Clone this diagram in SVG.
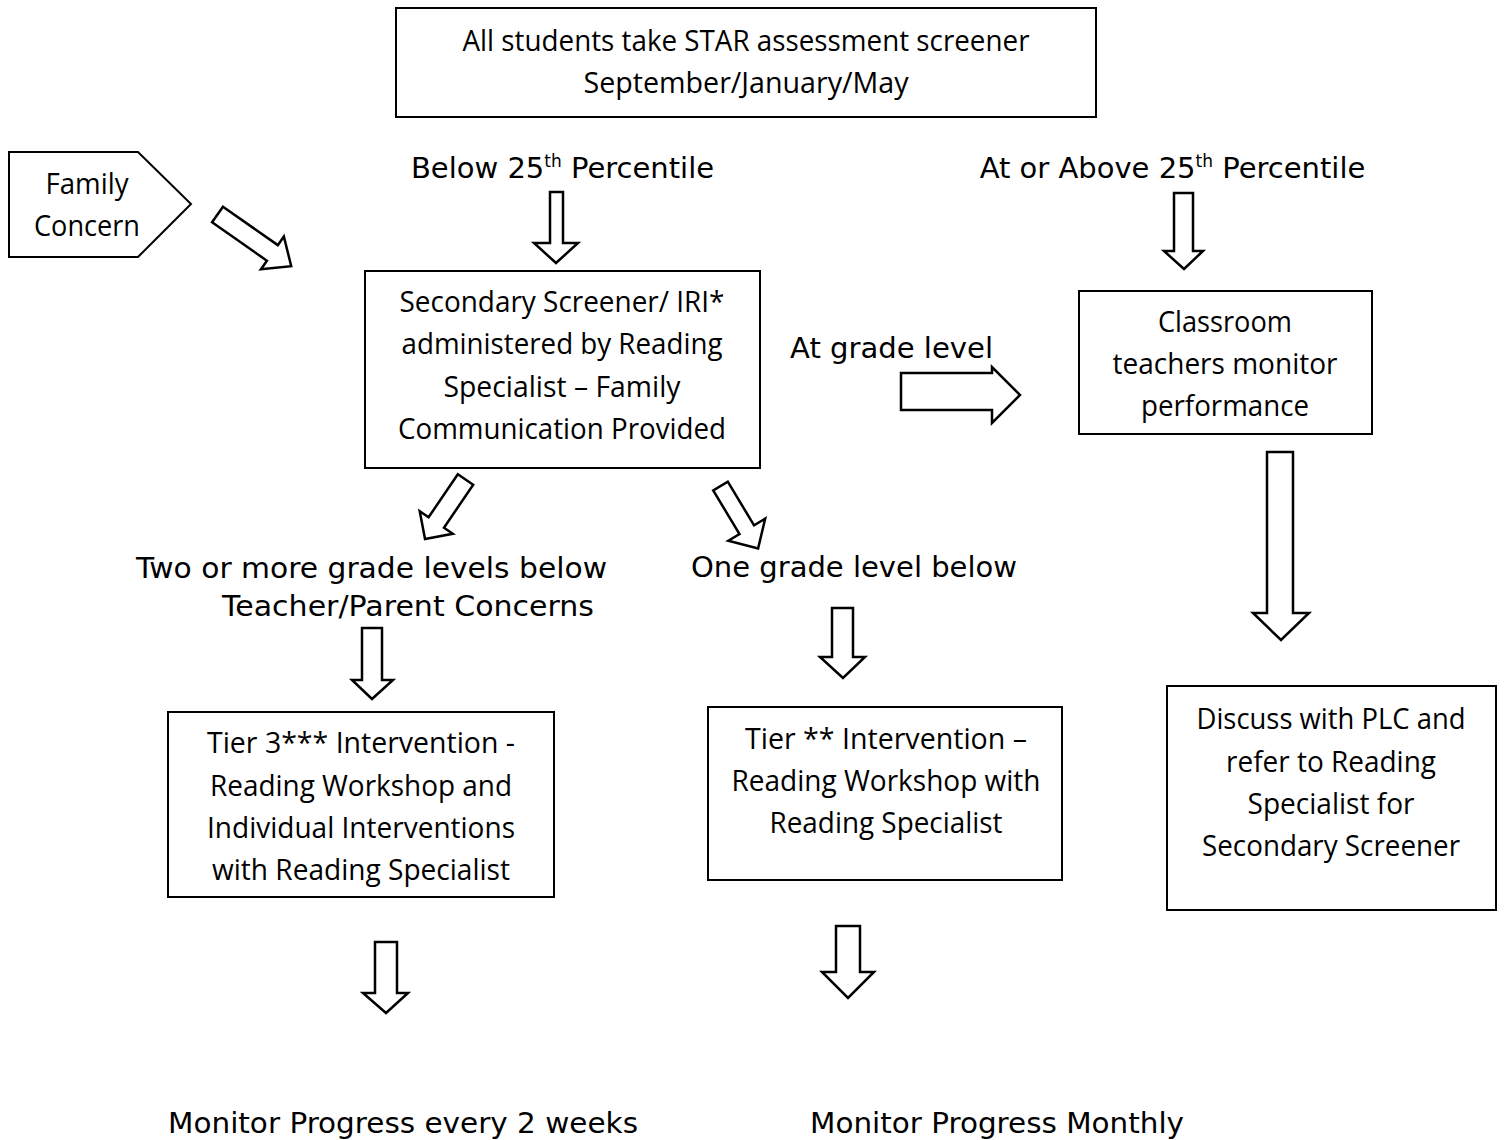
<svg xmlns="http://www.w3.org/2000/svg" width="1504" height="1140" viewBox="0 0 1504 1140">
<style>
.box{fill:#fff;stroke:#000;stroke-width:2}
.arrow{fill:#fff;stroke:#000;stroke-width:2.5;stroke-linejoin:miter}
.cal{font-family:"Open Sans","Noto Sans",sans-serif;font-size:29px;text-anchor:middle;fill:#000}
.ver{font-family:"DejaVu Sans",Verdana,sans-serif;font-size:29px;fill:#000}
</style>
<rect width="1504" height="1140" fill="#fff"/>
<g id="connectors">
  <polygon class="arrow" transform="translate(217.5,214.5) rotate(35)" points="0,-9.5 67,-9.5 67,-20 90,0 67,20 67,9.5 0,9.5"/>
  <polygon class="arrow" points="550,192 563,192 563,243 578,243 556,263 534,243 550,243"/>
  <polygon class="arrow" points="1174,193 1193,193 1193,251 1203,251 1184,269 1164,251 1174,251"/>
  <polygon class="arrow" points="901,373 992,373 992,367 1020,395 992,423 992,410 901,410"/>
  <polygon class="arrow" points="1267,452 1293,452 1293,613 1309,613 1281,640 1253,613 1267,613"/>
  <polygon class="arrow" transform="translate(465.5,479.5) rotate(124.2)" points="0,-9.3 52,-9.3 52,-20 72,0 52,20 52,9.3 0,9.3"/>
  <polygon class="arrow" transform="translate(720.5,486) rotate(59)" points="0,-8.5 51,-8.5 51,-21.5 73,0 51,21.5 51,8.5 0,8.5"/>
  <polygon class="arrow" points="362,628 382,628 382,680 393,680 372,699 352,680 362,680"/>
  <polygon class="arrow" points="832,608 853,608 853,657 865,657 843,678 820,657 832,657"/>
  <polygon class="arrow" points="375,942 397,942 397,993 408,993 386,1013 363,993 375,993"/>
  <polygon class="arrow" points="836,926 860,926 860,972 874,972 848,998 822,972 836,972"/>
</g>
<g id="star">
  <rect class="box" x="396" y="8" width="700" height="109"/>
  <text class="cal" x="746" y="51" textLength="567" lengthAdjust="spacingAndGlyphs">All students take STAR assessment screener</text>
  <text class="cal" x="746" y="93" textLength="325" lengthAdjust="spacingAndGlyphs">September/January/May</text>
</g>
<g id="family">
  <polygon class="box" points="9,152 138,152 191,204 138,257 9,257"/>
  <text class="cal" x="87" y="194" textLength="83" lengthAdjust="spacingAndGlyphs">Family</text>
  <text class="cal" x="87" y="236" textLength="106" lengthAdjust="spacingAndGlyphs">Concern</text>
</g>
<g id="below25">
  <text class="ver" x="562.5" y="178" text-anchor="middle">Below 25<tspan font-size="17" dy="-11">th</tspan><tspan dy="11"> Percentile</tspan></text>
</g>
<g id="above25">
  <text class="ver" x="1172.5" y="178" text-anchor="middle">At or Above 25<tspan font-size="17" dy="-11">th</tspan><tspan dy="11"> Percentile</tspan></text>
</g>
<g id="secondary">
  <rect class="box" x="365" y="271" width="395" height="197"/>
  <text class="cal" x="562" y="312" textLength="325" lengthAdjust="spacingAndGlyphs">Secondary Screener/ IRI*</text>
  <text class="cal" x="562" y="354" textLength="321" lengthAdjust="spacingAndGlyphs">administered by Reading</text>
  <text class="cal" x="562" y="397" textLength="237" lengthAdjust="spacingAndGlyphs">Specialist – Family</text>
  <text class="cal" x="562" y="439" textLength="328" lengthAdjust="spacingAndGlyphs">Communication Provided</text>
</g>
<g id="gradelevel">
  <text class="ver" x="790" y="358" textLength="203" lengthAdjust="spacingAndGlyphs">At grade level</text>
</g>
<g id="classroom">
  <rect class="box" x="1079" y="291" width="293" height="143"/>
  <text class="cal" x="1225" y="332" textLength="134" lengthAdjust="spacingAndGlyphs">Classroom</text>
  <text class="cal" x="1225" y="374" textLength="225" lengthAdjust="spacingAndGlyphs">teachers monitor</text>
  <text class="cal" x="1225" y="416" textLength="168" lengthAdjust="spacingAndGlyphs">performance</text>
</g>
<g id="twoormore">
  <text class="ver" x="136" y="578" textLength="471" lengthAdjust="spacingAndGlyphs">Two or more grade levels below</text>
  <text class="ver" x="222" y="616" textLength="372" lengthAdjust="spacingAndGlyphs">Teacher/Parent Concerns</text>
</g>
<g id="onegrade">
  <text class="ver" x="691" y="577" textLength="326" lengthAdjust="spacingAndGlyphs">One grade level below</text>
</g>
<g id="discuss">
  <rect class="box" x="1167" y="686" width="329" height="224"/>
  <text class="cal" x="1331" y="729" textLength="269" lengthAdjust="spacingAndGlyphs">Discuss with PLC and</text>
  <text class="cal" x="1331" y="772" textLength="210" lengthAdjust="spacingAndGlyphs">refer to Reading</text>
  <text class="cal" x="1331" y="814" textLength="167" lengthAdjust="spacingAndGlyphs">Specialist for</text>
  <text class="cal" x="1331" y="856" textLength="258" lengthAdjust="spacingAndGlyphs">Secondary Screener</text>
</g>
<g id="tier3">
  <rect class="box" x="168" y="712" width="386" height="185"/>
  <text class="cal" x="361" y="753" textLength="308" lengthAdjust="spacingAndGlyphs">Tier 3*** Intervention -</text>
  <text class="cal" x="361" y="796" textLength="302" lengthAdjust="spacingAndGlyphs">Reading Workshop and</text>
  <text class="cal" x="361" y="838" textLength="308" lengthAdjust="spacingAndGlyphs">Individual Interventions</text>
  <text class="cal" x="361" y="880" textLength="298" lengthAdjust="spacingAndGlyphs">with Reading Specialist</text>
</g>
<g id="tier2">
  <rect class="box" x="708" y="707" width="354" height="173"/>
  <text class="cal" x="886" y="749" textLength="282" lengthAdjust="spacingAndGlyphs">Tier ** Intervention –</text>
  <text class="cal" x="886" y="791" textLength="309" lengthAdjust="spacingAndGlyphs">Reading Workshop with</text>
  <text class="cal" x="886" y="833" textLength="233" lengthAdjust="spacingAndGlyphs">Reading Specialist</text>
</g>
<g id="monitor2weeks">
  <text class="ver" x="168" y="1133" textLength="470" lengthAdjust="spacingAndGlyphs">Monitor Progress every 2 weeks</text>
</g>
<g id="monitormonthly">
  <text class="ver" x="810" y="1133" textLength="374" lengthAdjust="spacingAndGlyphs">Monitor Progress Monthly</text>
</g>
</svg>
